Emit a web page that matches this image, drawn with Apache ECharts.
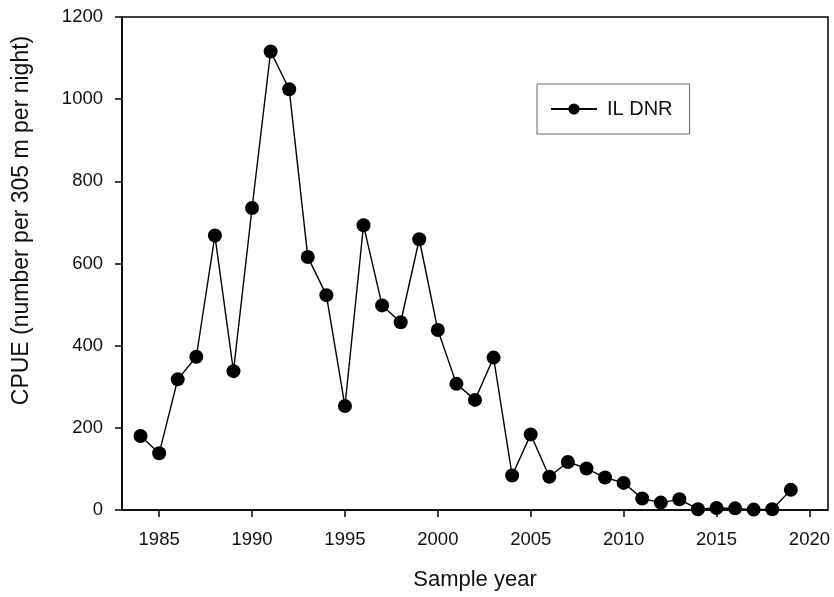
<!DOCTYPE html>
<html>
<head>
<meta charset="utf-8">
<script src="https://cdn.jsdelivr.net/npm/echarts@6/dist/echarts.min.js"></script>
<style>html,body{margin:0;padding:0;background:#fff;}#c{width:834px;height:597px;}</style>
</head>
<body>
<div id="c"></div>
<script>
const years = [1984,1985,1986,1987,1988,1989,1990,1991,1992,1993,1994,1995,1996,1997,1998,1999,2000,2001,2002,2003,2004,2005,2006,2007,2008,2009,2010,2011,2012,2013,2014,2015,2016,2017,2018,2019];
const cpue = [180,138,318,373,668,338,735,1116,1024,616,523,253,693,498,457,659,438,307,268,371,84,184,81,117,101,79,66,28,18,26,2,5,4,1,2,49];
const seriesName = 'IL DNR';
const xTicks = [1985,1990,1995,2000,2005,2010,2015,2020];
const yTicks = [0,200,400,600,800,1000,1200];

const chart = echarts.init(document.getElementById('c'));
const font = 'Liberation Sans, Arial, sans-serif';
chart.setOption({
  animation: false,
  backgroundColor: '#fff',
  grid: {left: 122, right: 6, top: 17, bottom: 87, show: true, borderColor: '#000', borderWidth: 1.5, backgroundColor: 'transparent'},
  xAxis: {
    type: 'value', min: 1983, max: 2021, interval: 1,
    name: 'Sample year', nameLocation: 'middle', nameGap: 59,
    nameTextStyle: {fontFamily: font, fontSize: 22, color: '#111'},
    axisLine: {show: true, onZero: false, lineStyle: {color: '#000', width: 1.5}},
    axisTick: {show: true, inside: false, length: 7, lineStyle: {color: '#000', width: 1.5},
      customValues: xTicks},
    axisLabel: {fontFamily: font, fontSize: 18.5, color: '#111', margin: 20,
      customValues: xTicks, formatter: v => String(v)},
    splitLine: {show: false}
  },
  yAxis: {
    type: 'value', min: 0, max: 1200, interval: 200,
    name: 'CPUE (number per 305 m per night)', nameLocation: 'middle', nameGap: 89,
    nameTextStyle: {fontFamily: font, fontSize: 23, color: '#111', padding: [0, 0, 0, 86]},
    axisLine: {show: true, lineStyle: {color: '#000', width: 1.5}},
    axisTick: {show: true, inside: false, length: 7, lineStyle: {color: '#000', width: 1.5}},
    axisLabel: {fontFamily: font, fontSize: 18.5, color: '#111', margin: 19,
      customValues: yTicks, formatter: v => String(v)},
    splitLine: {show: false}
  },
  legend: {
    show: true, left: 537, top: 84,
    orient: 'horizontal',
    padding: [15, 17, 15, 13],
    borderColor: '#666', borderWidth: 1,
    itemWidth: 46, itemHeight: 14, itemGap: 8,
    textStyle: {fontFamily: font, fontSize: 20, color: '#111', padding: [0, 0, 0, 5]},
    data: [{name: seriesName}]
  },
  series: [{
    name: seriesName, type: 'line',
    data: years.map((y, i) => [y, cpue[i]]),
    symbol: 'circle', symbolSize: 14,
    lineStyle: {color: '#000', width: 1.4},
    itemStyle: {color: '#000'},
    clip: false
  }]
});
</script>
</body>
</html>
